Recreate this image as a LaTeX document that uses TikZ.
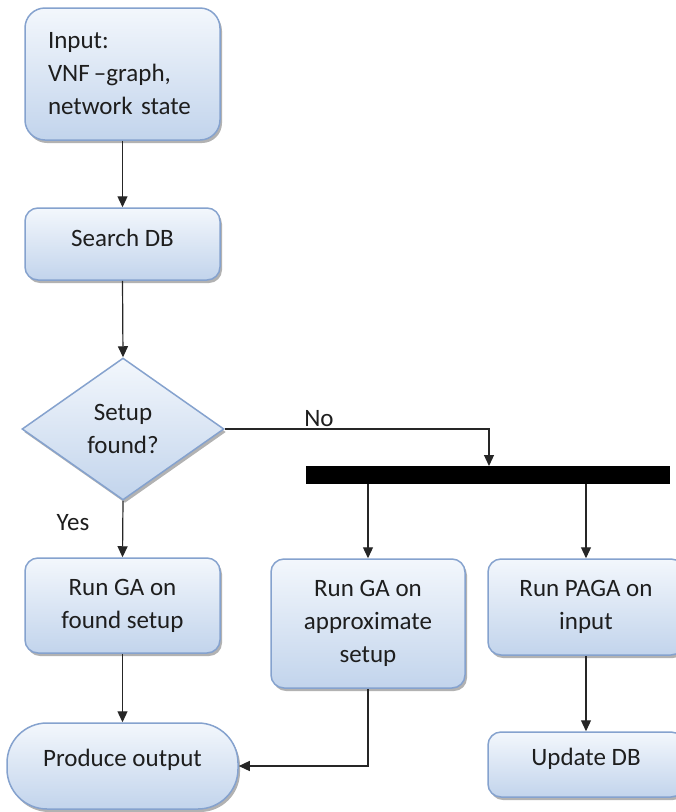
\documentclass[tikz,border=0pt]{standalone}
\usepackage{fontspec}
\setmainfont{Carlito}
\usetikzlibrary{shapes.geometric,arrows.meta,shadows}
\definecolor{boxtop}{HTML}{F3F7FC}
\definecolor{boxbot}{HTML}{C2D4EC}
\definecolor{boxline}{HTML}{85A2CE}
\definecolor{txt}{HTML}{1E1E1E}
\tikzset{
  fbox/.style={draw=boxline, line width=1.5pt, top color=boxtop, bottom color=boxbot,
    rounded corners=13pt,
    drop shadow={shadow xshift=2pt, shadow yshift=-3pt, fill=black, opacity=0.3},
    font=\fontsize{25}{33}\selectfont, text=txt, align=center, inner sep=0pt},
  conn/.style={draw=black!85, line width=1.2pt},
  arr/.style={conn, -{Triangle[length=11pt,width=10pt]}},
  lbl/.style={font=\fontsize{25}{33}\selectfont, text=txt, inner sep=0pt}
}
\begin{document}
\begin{tikzpicture}[x=1pt,y=-1pt]
\useasboundingbox (0,0) rectangle (676,812);
\clip (0,0) rectangle (676,812);
\fill[white] (0,0) rectangle (676,812);

\node[fbox, rounded corners=20pt, minimum width=195pt, minimum height=132pt,
      text width=149pt, align=left] (input) at (122.5,74)
  {Input:\\VNF\,--graph,\\network state};
\node[fbox, minimum width=195pt, minimum height=72pt, text depth=12pt] (search) at (122.5,244) {Search DB};
\node[fbox, diamond, rounded corners=0pt, minimum width=202pt, minimum height=142pt,
      aspect=1.42] (dia) at (123,429) {Setup\\found?};
\node[fbox, minimum width=195pt, minimum height=95pt] (found) at (122.5,605.5) {Run GA on\\found setup};
\node[fbox, minimum width=194pt, minimum height=129pt] (approx) at (368,623.5) {Run GA on\\approximate\\setup};
\node[fbox, minimum width=196pt, minimum height=96pt] (paga) at (586,607) {Run PAGA on\\input};
\node[fbox, minimum width=196pt, minimum height=65pt, text depth=15pt] (update) at (586,764.5) {Update DB};
\node[fbox, rounded corners=40pt, minimum width=231pt, minimum height=86pt, text depth=16pt] (produce) at (122.5,766) {Produce output};
\node[fill=black, inner sep=0pt, minimum width=364pt, minimum height=18pt] (bar) at (488,475) {};

\coordinate (barin) at (489,466);

\node[lbl] (no) at (319,419) {No};
\node[lbl] (yes) at (73,523) {Yes};

\draw[arr] (input.south) -- (search.north);
\draw[arr] (search.south) -- (dia.north);
\draw[arr] (dia.east) -| (barin);
\draw[arr] (dia.south) -- (found.north);
\draw[arr] (bar.south -| approx.north) -- (approx.north);
\draw[arr] (bar.south -| paga.north) -- (paga.north);
\draw[arr] (found.south) -- (produce.north);
\draw[arr] (approx.south) |- (produce.east);
\draw[arr] (paga.south) -- (update.north);
\end{tikzpicture}
\end{document}
